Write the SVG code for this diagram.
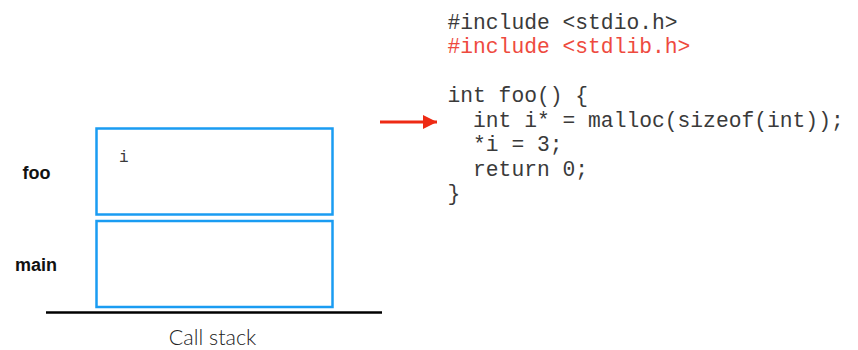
<svg xmlns="http://www.w3.org/2000/svg" width="858" height="350" viewBox="0 0 858 350">
  <style>
    .frame { fill: #ffffff; stroke: #1a9cf2; stroke-width: 2.5; }
    .label { font-family: "Liberation Sans", Arial, sans-serif; font-weight: bold; font-size: 18px; fill: #111111; }
    .code { font-family: "Liberation Mono", "Courier New", monospace; font-size: 21.3px; fill: #3a3a3a; white-space: pre; }
    .code.hl { fill: #ee4a3e; }
    .caption { font-family: Lato, "Open Sans", sans-serif; font-weight: 300; font-size: 21.5px; fill: #222222; }
  </style>
  <defs>
    <marker id="arrowhead" markerUnits="userSpaceOnUse" markerWidth="14" markerHeight="14" refX="14" refY="7" orient="auto">
      <path d="M0,0 L14,7 L0,14 Z" fill="#ee2a14"/>
    </marker>
  </defs>
  <rect width="858" height="350" fill="#ffffff"/>

  <!-- call stack frames -->
  <g id="frame-foo">
    <rect class="frame" x="96.5" y="128.5" width="236" height="86"/>
    <text class="code" x="119" y="162" style="font-size:16px">i</text>
    <text class="label" x="22.5" y="179">foo</text>
  </g>
  <g id="frame-main">
    <rect class="frame" x="96.5" y="221" width="236" height="86"/>
    <text class="label" x="15" y="271">main</text>
  </g>

  <!-- stack base and caption -->
  <g id="stack-base">
    <line x1="46" y1="312.5" x2="382" y2="312.5" stroke="#000000" stroke-width="2.5"/>
    <text class="caption" x="212.5" y="345" text-anchor="middle">Call stack</text>
  </g>

  <!-- source listing -->
  <g id="source">
    <text class="code" x="447.5" y="28.5">#include &lt;stdio.h&gt;</text>
    <text class="code hl" x="447.5" y="53">#include &lt;stdlib.h&gt;</text>
    <text class="code" x="447.5" y="102">int foo() {</text>
    <text class="code" x="447.5" y="126.5">  int i* = malloc(sizeof(int));</text>
    <text class="code" x="447.5" y="151">  *i = 3;</text>
    <text class="code" x="447.5" y="175.5">  return 0;</text>
    <text class="code" x="447.5" y="200">}</text>
  </g>

  <!-- current line pointer -->
  <g id="connectors">
    <line x1="380" y1="122" x2="437" y2="122" stroke="#ee2a14" stroke-width="3" marker-end="url(#arrowhead)"/>
  </g>
</svg>
